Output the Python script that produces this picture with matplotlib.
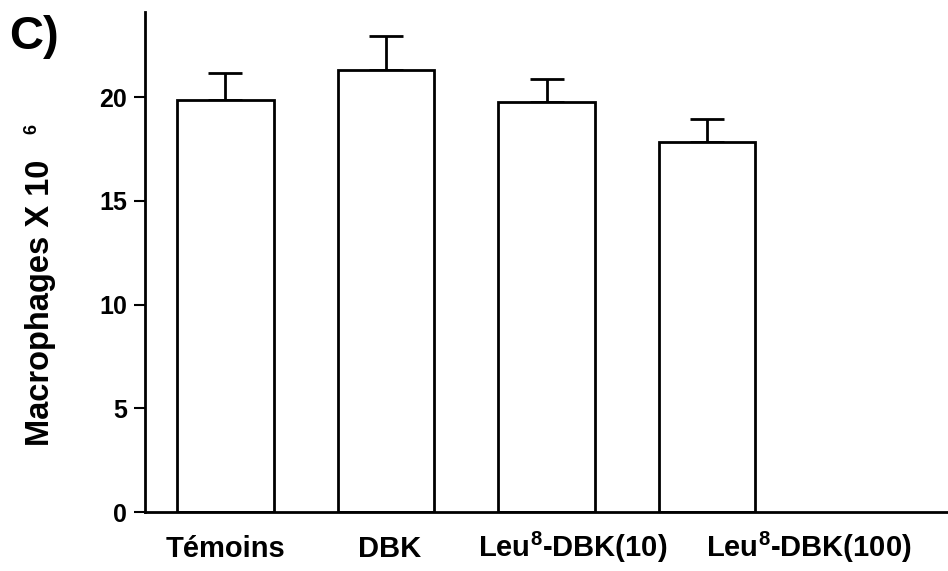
import matplotlib.pyplot as plt
import matplotlib.transforms as mtransforms
import numpy as np

groups = ["Témoins", "DBK", "Leu$^{8}$-DBK(10)", "Leu$^{8}$-DBK(100)"]
means = [19.85, 21.3, 19.75, 17.85]
errors = [1.3, 1.65, 1.1, 1.1]
yticks = [0, 5, 10, 15, 20]

plt.rcParams["font.family"] = ["Liberation Sans", "DejaVu Sans"]
plt.rcParams["font.weight"] = "bold"
plt.rcParams["mathtext.fontset"] = "custom"
plt.rcParams["mathtext.rm"] = "Liberation Sans:bold"
plt.rcParams["mathtext.bf"] = "Liberation Sans:bold"
plt.rcParams["mathtext.default"] = "rm"


def main() -> None:
    fig = plt.figure(figsize=(9.48, 5.71), dpi=100)
    ax = fig.add_axes([0.153, 0.103, 0.847, 0.876])

    x = np.arange(len(groups))
    ax.bar(x, means, width=0.6, color="white", edgecolor="black", linewidth=2, zorder=2)
    ax.errorbar(x, means, yerr=[np.zeros(len(errors)), errors], fmt="none",
                ecolor="black", elinewidth=2, capsize=12, capthick=2, zorder=1)

    ax.set_xlim(-0.5, 4.5)
    ax.set_ylim(0, 24.1)
    ax.set_yticks(yticks)
    ax.set_yticklabels([str(t) for t in yticks], fontsize=18, fontweight="bold")
    ax.tick_params(axis="y", direction="out", length=8, width=1.5, pad=5)
    ax.set_xticks([])

    # group labels sit on a common baseline, shifted a bit from the bars as in the original
    label_x = [0.0, 1.02, 2.16, 3.63]
    trans = mtransforms.blended_transform_factory(ax.transData, ax.transAxes)
    for lx, name in zip(label_x, groups):
        ax.text(lx, -0.09, name, transform=trans, ha="center", va="baseline",
                fontsize=21, fontweight="bold", clip_on=False)

    for side in ("top", "right"):
        ax.spines[side].set_visible(False)
    ax.spines["left"].set_linewidth(2)
    ax.spines["bottom"].set_linewidth(2)

    fig.text(0.043, 0.469, "Macrophages X 10", rotation=90, ha="center", va="center",
             fontsize=23.5, fontweight="bold")
    fig.text(0.034, 0.774, "6", rotation=90, ha="center", va="center",
             fontsize=13, fontweight="bold")
    fig.text(0.01, 0.935, "C)", ha="left", va="center", fontsize=34, fontweight="bold")

    fig.savefig("out.png", dpi=100)
    plt.close(fig)


if __name__ == "__main__":
    main()
